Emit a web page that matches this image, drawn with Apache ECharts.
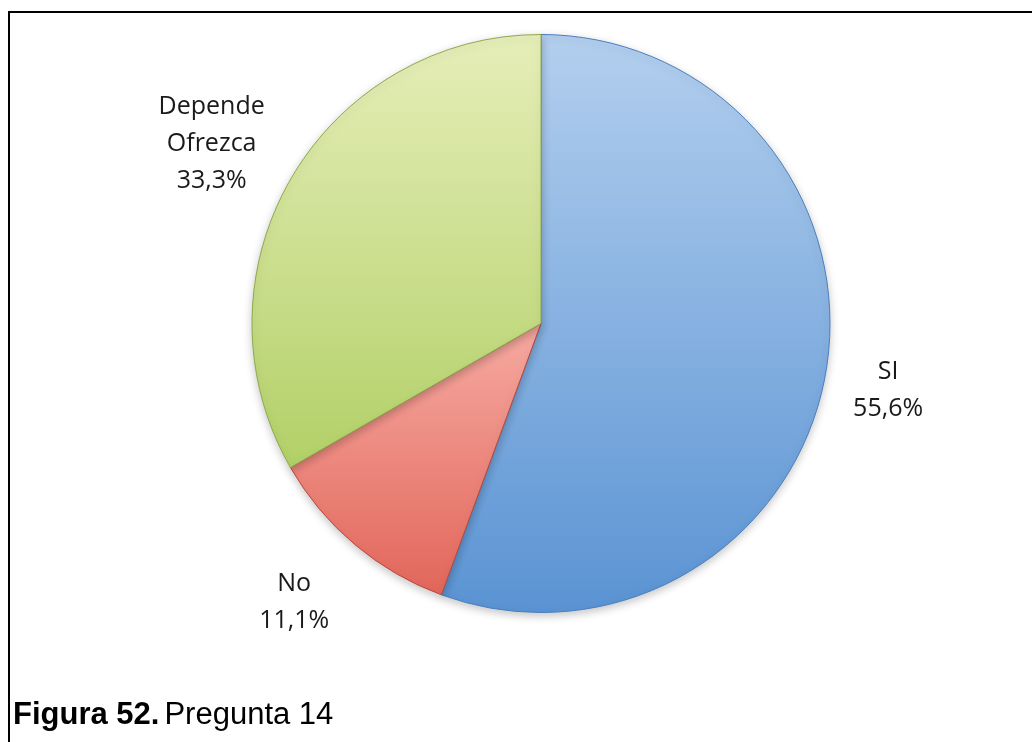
<!DOCTYPE html>
<html>
<head>
<meta charset="utf-8">
<title>Figura 52. Pregunta 14</title>
<script src="https://cdn.jsdelivr.net/npm/echarts@6/dist/echarts.min.js"></script>
<style>
  html, body { margin: 0; padding: 0; background: #ffffff; }
  #chart { width: 1032px; height: 742px; }
</style>
</head>
<body>
<div id="chart"></div>
<script>
// Survey answers to question 14 (percent of respondents)
const categories = ['SI', 'No', 'Depende\nOfrezca'];
const percentages = [55.6, 11.1, 33.3];

// Slice fills: light top to darker bottom, with a darker outline
const sliceFills = [
  ['#b3cfee', '#5a93d3', '#4a7fbf'],
  ['#f6aaa2', '#e2665a', '#b9493f'],
  ['#e6eeb9', '#b2d067', '#8faa4c']
];

// Where each text block sits, as an angle (deg, counter-clockwise from 3 o'clock)
// and a distance from the centre in units of the pie radius
const labelPlacement = [
  { angle: -10.85, dist: 1.223 },
  { angle: -131.5, dist: 1.289 },
  { angle: 151.4, dist: 1.298 }
];

const chart = echarts.init(document.getElementById('chart'), null, { renderer: 'canvas' });

const W = 1032, H = 742;
const cx = 541, cy = 323.5, R = 289;

function fmtPct(v) {
  return v.toFixed(1).replace('.', ',') + '%';
}

const data = categories.map((name, i) => ({
  name: name,
  value: percentages[i],
  itemStyle: {
    color: new echarts.graphic.LinearGradient(0, 0, 0, 1, [
      { offset: 0, color: sliceFills[i][0] },
      { offset: 1, color: sliceFills[i][1] }
    ]),
    borderColor: sliceFills[i][2],
    borderWidth: 1
  }
}));

const option = {
  backgroundColor: '#ffffff',
  animation: false,
  title: {
    left: 13,
    top: 700,
    padding: 0,
    text: '{b|Figura 52.} {r|Pregunta 14}',
    textStyle: {
      rich: {
        b: { fontFamily: 'Liberation Sans, Arial, sans-serif', fontWeight: 'bold', fontSize: 31, color: '#000000' },
        r: { fontFamily: 'Liberation Sans, Arial, sans-serif', fontWeight: 'normal', fontSize: 31, color: '#000000' }
      }
    }
  },
  graphic: [
    {
      type: 'polyline',
      silent: true,
      shape: { points: [[9, H], [9, 12], [W, 12]] },
      style: { stroke: '#000000', lineWidth: 2, fill: null }
    }
  ],
  series: [
    {
      type: 'pie',
      center: [cx, cy],
      radius: [0, R],
      startAngle: 90,
      clockwise: true,
      avoidLabelOverlap: false,
      itemStyle: {
        shadowBlur: 8,
        shadowOffsetY: 3,
        shadowColor: 'rgba(0,0,0,0.22)'
      },
      emphasis: { disabled: true },
      label: {
        show: true,
        position: 'outside',
        formatter: p => p.name + '\n' + fmtPct(p.value),
        fontFamily: 'Open Sans, sans-serif',
        fontSize: 25,
        lineHeight: 37,
        color: '#1a1a1a',
        align: 'center'
      },
      labelLine: { show: false },
      labelLayout: function (params) {
        const pl = labelPlacement[params.dataIndex];
        const a = pl.angle * Math.PI / 180;
        return {
          x: cx + Math.cos(a) * R * pl.dist,
          y: cy - Math.sin(a) * R * pl.dist,
          align: 'center',
          verticalAlign: 'middle'
        };
      },
      data: data
    }
  ]
};

chart.setOption(option);
</script>
</body>
</html>
